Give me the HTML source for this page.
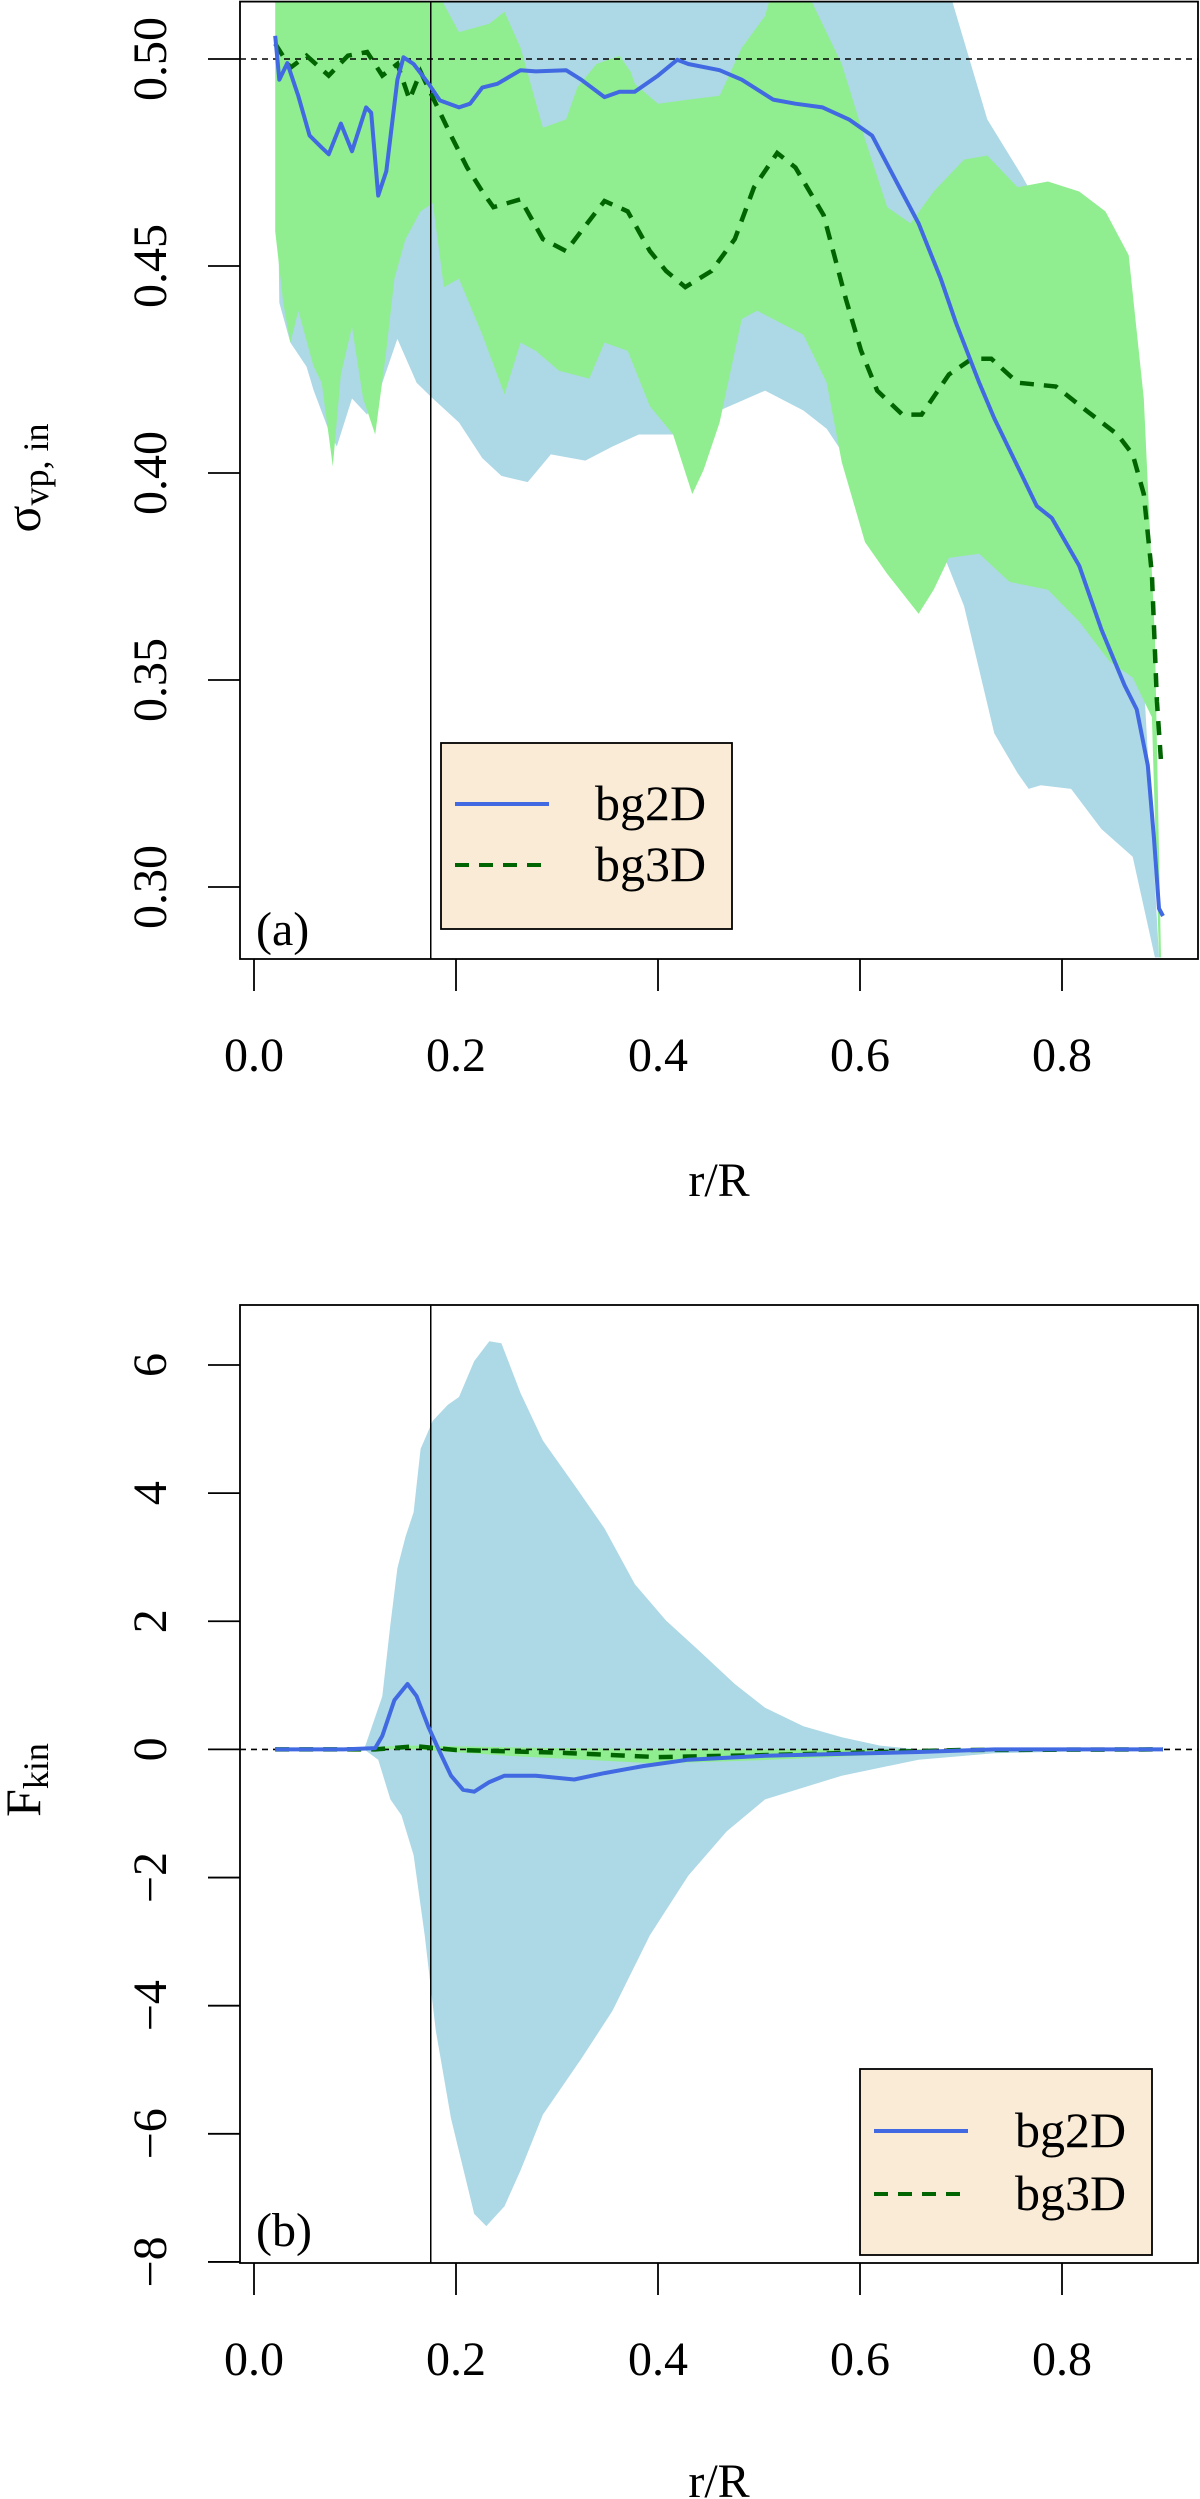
<!DOCTYPE html>
<html><head><meta charset="utf-8">
<style>
html,body{margin:0;padding:0;background:#fff;}
svg{display:block;font-family:"Liberation Serif",serif;}
</style></head>
<body>
<svg id="fig" width="1200" height="2499" viewBox="0 0 1200 2499" xmlns="http://www.w3.org/2000/svg">
<defs>
<clipPath id="clipA"><rect x="240" y="1.6" width="958" height="957.4"/></clipPath>
<clipPath id="clipB"><rect x="240" y="1305" width="958" height="958"/></clipPath>
</defs>
<g id="panelA"></g>
<g id="panelB"></g>
</svg>
<script>
// ---- Panel (a) data ----
const aXTicks = [0.0, 0.2, 0.4, 0.6, 0.8];
const aXTickLabels = ["0.0","0.2","0.4","0.6","0.8"];
const aYTicks = [0.30,0.35,0.40,0.45,0.50];
const aYTickLabels = ["0.30","0.35","0.40","0.45","0.50"];
const aBlue2DR = [.021,.025,.033,.044,.055,.067,.074,.086,.097,.111,.116,.123,.131,.142,.148,.158,.173,.184,.203,.214,.226,.241,.264,.279,.309,.324,.347,.362,.377,.4,.419,.430,.461,.483,.514,.536,.563,.589,.612,.639,.658,.680,.695,.718,.733,.756,.775,.790,.817,.839,.862,.874,.885,.891,.896,.9];
const aBlue2DV = [.5056,.495,.499,.491,.4815,.4786,.477,.4844,.4777,.4883,.487,.467,.4729,.495,.5004,.4988,.494,.490,.4883,.4892,.4931,.494,.4973,.497,.4973,.495,.4908,.4921,.4921,.496,.4998,.4988,.4973,.495,.4902,.4892,.4883,.4854,.4815,.469,.4603,.4469,.4363,.4218,.4132,.4016,.392,.3891,.3776,.3622,.3487,.3429,.3294,.312,.2948,.293];
const aGreen3DR = [.021,.036,.052,.074,.093,.112,.127,.142,.154,.165,.180,.195,.211,.226,.237,.264,.286,.309,.324,.347,.370,.392,.408,.427,.453,.476,.495,.518,.536,.564,.586,.601,.617,.642,.661,.688,.711,.730,.756,.794,.824,.855,.870,.881,.889,.894,.898,.901];
const aGreen3DV = [.5037,.4979,.5008,.496,.5008,.5017,.496,.4988,.4902,.4969,.4892,.4815,.4738,.468,.4642,.4661,.4565,.4536,.4584,.4657,.4632,.4536,.4488,.4449,.4488,.4565,.469,.4773,.4738,.4623,.442,.4296,.4199,.4141,.4141,.4238,.4276,.4276,.4218,.4209,.4151,.4093,.4045,.3949,.3756,.3449,.3304,.3304];
const aBlueUpR = [.021,.684,.726,.76,.809,.870,.896];
const aBlueUpV = [.52,.52,.4854,.4719,.4507,.3987,.283];
const aBlueLoR = [.021,.025,.036,.052,.059,.074,.082,.097,.112,.127,.142,.161,.177,.203,.226,.245,.271,.294,.328,.355,.381,.415,.430,.461,.506,.544,.567,.589,.612,.627,.658,.684,.703,.733,.756,.767,.779,.809,.839,.870,.892,.896];
const aBlueLoV = [.52,.4411,.4315,.4257,.42,.4103,.4064,.418,.4141,.4218,.4324,.4218,.418,.4122,.4036,.3993,.3978,.4045,.403,.4064,.4093,.4093,.4045,.4151,.4199,.4151,.4107,.4026,.391,.3814,.3776,.3795,.3679,.3371,.3275,.3237,.3246,.3237,.3140,.3073,.283,.283];
const aGreenUpR = [.021,.173,.203,.233,.248,.264,.286,.309,.320,.339,.362,.373,.377,.4,.430,.461,.483,.506,.517,.540,.559,.582,.605,.627,.65,.673,.703,.726,.756,.786,.817,.843,.866,.881,.892,.898];
const aGreenUpV = [.52,.52,.5065,.5085,.5114,.5027,.4834,.4854,.4931,.4988,.5008,.4969,.494,.4892,.4902,.4911,.5027,.5104,.52,.52,.5104,.4988,.4806,.4642,.4603,.468,.4757,.4767,.469,.4704,.468,.4632,.4526,.418,.3603,.283];
const aGreenLoR = [.021,.029,.036,.044,.059,.067,.078,.086,.097,.108,.120,.131,.139,.150,.165,.177,.188,.203,.226,.248,.264,.279,.302,.332,.347,.370,.392,.415,.434,.445,.461,.483,.498,.521,.544,.567,.582,.605,.627,.658,.673,.688,.718,.748,.786,.817,.847,.870,.889,.896];
const aGreenLoV = [.4584,.4411,.4315,.4392,.4257,.4218,.4016,.4238,.4353,.418,.4093,.4295,.4469,.4565,.4632,.4652,.4449,.4469,.4334,.419,.4315,.4295,.4247,.4228,.4315,.4295,.4161,.4093,.3949,.4007,.4122,.4372,.4392,.4363,.4334,.4218,.4026,.3833,.3756,.366,.3718,.3795,.3805,.3737,.3718,.3641,.3545,.3506,.341,.283];
const aRefLine = 0.5;
const aVLine = 0.175;

// ---- Panel (b) data ----
const bYTicks = [-8,-6,-4,-2,0,2,4,6];
const bYTickLabels = ["\u22128","\u22126","\u22124","\u22122","0","2","4","6"];
const bBlue2DR = [.021,.089,.12,.127,.139,.152,.161,.173,.184,.195,.207,.218,.233,.248,.279,.317,.347,.385,.430,.506,.582,.658,.733,.9];
const bBlue2DV = [0,0,.02,.21,.77,1.02,.83,.34,-.04,-.41,-.63,-.66,-.51,-.41,-.41,-.47,-.37,-.26,-.16,-.1,-.07,-.04,0,0];
const bGreen3DR = [.021,.12,.16,.2,.3,.4,.5,.6,.7,.9];
const bGreen3DV = [0,0,.05,-.01,-.05,-.12,-.09,-.05,-.01,0];
const bBlueUpR = [.021,.109,.127,.135,.142,.150,.158,.165,.177,.192,.203,.218,.233,.245,.264,.286,.317,.347,.377,.408,.438,.476,.506,.544,.582,.62,.658,.9];
const bBlueUpV = [0,0,.83,1.95,2.83,3.32,3.7,4.69,5.13,5.38,5.5,6.06,6.37,6.34,5.56,4.82,4.13,3.45,2.58,2.01,1.58,1.02,.65,.36,.19,.06,0,0];
const bBlueLoR = [.021,.109,.123,.135,.146,.158,.169,.180,.195,.218,.230,.248,.264,.286,.324,.355,.392,.430,.468,.506,.582,.658,.733,.9];
const bBlueLoV = [0,0,-.16,-.78,-1.03,-1.65,-2.9,-4.39,-5.76,-7.25,-7.44,-7.13,-6.57,-5.7,-4.83,-4.08,-2.9,-1.97,-1.28,-.78,-.41,-.16,-.06,0];
const bGreenUpR = [.021,.16,.3,.5,.7,.9];
const bGreenUpV = [0,.06,.02,.0,0,0];
const bGreenLoR = [.021,.16,.25,.4,.5,.6,.7,.9];
const bGreenLoV = [0,0,-.1,-.22,-.17,-.1,-.03,0];

const NS = "http://www.w3.org/2000/svg";
function mk(tag, attrs, parent){const e=document.createElementNS(NS,tag);for(const k in attrs)e.setAttribute(k,attrs[k]);parent.appendChild(e);return e;}
const xS = r => 254 + r*1010;
const yA = v => 59 + (0.5 - v)*4140;
const yB = v => 1749.4 - v*64.07;
function lineD(R,V,ys){return R.map((r,i)=>(i?"L":"M")+xS(r).toFixed(1)+","+ys(V[i]).toFixed(1)).join("");}
function bandD(UR,UV,LR,LV,ys){let d=lineD(UR,UV,ys);for(let i=LR.length-1;i>=0;i--)d+="L"+xS(LR[i]).toFixed(1)+","+ys(LV[i]).toFixed(1);return d+"Z";}

function panel(g, top, bottom, ys, yt, ytl, clip, data){
  const c = mk('g',{'clip-path':'url(#'+clip+')'},g);
  let e;
  e=mk('path',{d:bandD(data.bu[0],data.bu[1],data.bl[0],data.bl[1],ys),fill:'#add8e6'},c);
  
  
  e=mk('path',{d:bandD(data.gu[0],data.gu[1],data.gl[0],data.gl[1],ys),fill:'#90ee90'},c);
  
  
  e=mk('line',{x1:240,x2:1198,y1:ys(data.ref),y2:ys(data.ref),stroke:'#000','stroke-width':1.6,'stroke-dasharray':'6,5'},c);
  
  
  e=mk('line',{x1:xS(aVLine),x2:xS(aVLine),y1:top,y2:bottom,stroke:'#000','stroke-width':1.5},c);
  
  
  e=mk('path',{d:lineD(data.g3[0],data.g3[1],ys),fill:'none',stroke:'#006400','stroke-width':4.5,'stroke-dasharray':'14,10'},c);
  
  
  e=mk('path',{d:lineD(data.b2[0],data.b2[1],ys),fill:'none',stroke:'#4169e1','stroke-width':4,'stroke-linejoin':'round'},c);
  
  
  e=mk('rect',{x:240,y:top,width:958,height:bottom-top,fill:'none',stroke:'#000','stroke-width':1.8},g);
  
  
  aXTicks.forEach((t,i)=>{
    const x=xS(t);
    let k=mk('line',{x1:x,x2:x,y1:bottom,y2:bottom+32,stroke:'#000','stroke-width':1.8},g);
    
    
    let l=mk('text',{x:x,y:bottom+112,'text-anchor':'middle','font-size':48},g);
    l.textContent=aXTickLabels[i];
    
    
  });
  yt.forEach((t,i)=>{
    const y=ys(t);
    let k=mk('line',{x1:208,x2:240,y1:y,y2:y,stroke:'#000','stroke-width':1.8},g);
    
    
    let l=mk('text',{x:0,y:0,'text-anchor':'middle','font-size':48,transform:'translate(166,'+y+') rotate(-90)'},g);
    l.textContent=ytl[i];
    
    
  });
}
panel(document.getElementById('panelA'),1.6,959,yA,aYTicks,aYTickLabels,'clipA',
 {bu:[aBlueUpR,aBlueUpV],bl:[aBlueLoR,aBlueLoV],gu:[aGreenUpR,aGreenUpV],gl:[aGreenLoR,aGreenLoV],g3:[aGreen3DR,aGreen3DV],b2:[aBlue2DR,aBlue2DV],ref:aRefLine});
panel(document.getElementById('panelB'),1305,2263,yB,bYTicks,bYTickLabels,'clipB',
 {bu:[bBlueUpR,bBlueUpV],bl:[bBlueLoR,bBlueLoV],gu:[bGreenUpR,bGreenUpV],gl:[bGreenLoR,bGreenLoV],g3:[bGreen3DR,bGreen3DV],b2:[bBlue2DR,bBlue2DV],ref:0});
</script>
<svg width="1200" height="2499" viewBox="0 0 1200 2499" style="position:absolute;left:0;top:0;font-family:'Liberation Serif',serif;" xmlns="http://www.w3.org/2000/svg">
<text x="719" y="1196" text-anchor="middle" font-size="48">r/R</text>
<text transform="translate(40,478) rotate(-90)" text-anchor="middle" font-size="50">σ<tspan font-size="36" dy="8">vp, in</tspan></text>
<text x="256" y="945" font-size="48">(a)</text>
<g>
<rect x="441" y="743" width="291" height="186" fill="#faebd7" stroke="#000" stroke-width="1.8"/>
<line x1="455" x2="549" y1="804" y2="804" stroke="#4169e1" stroke-width="4"/>
<text x="595" y="820" font-size="50">bg2D</text>
<line x1="455" x2="549" y1="865" y2="865" stroke="#006400" stroke-width="4" stroke-dasharray="14,10"/>
<text x="595" y="881" font-size="50">bg3D</text>
</g>
<text x="719" y="2497" text-anchor="middle" font-size="48">r/R</text>
<text transform="translate(40,1780) rotate(-90)" text-anchor="middle" font-size="50">F<tspan font-size="36" dy="8">kin</tspan></text>
<text x="256" y="2246" font-size="48">(b)</text>
<g>
<rect x="860" y="2069" width="292" height="186" fill="#faebd7" stroke="#000" stroke-width="1.8"/>
<line x1="874" x2="968" y1="2131" y2="2131" stroke="#4169e1" stroke-width="4"/>
<text x="1015" y="2147" font-size="50">bg2D</text>
<line x1="874" x2="968" y1="2194" y2="2194" stroke="#006400" stroke-width="4" stroke-dasharray="14,10"/>
<text x="1015" y="2210" font-size="50">bg3D</text>
</g>
</svg>
</body></html>
